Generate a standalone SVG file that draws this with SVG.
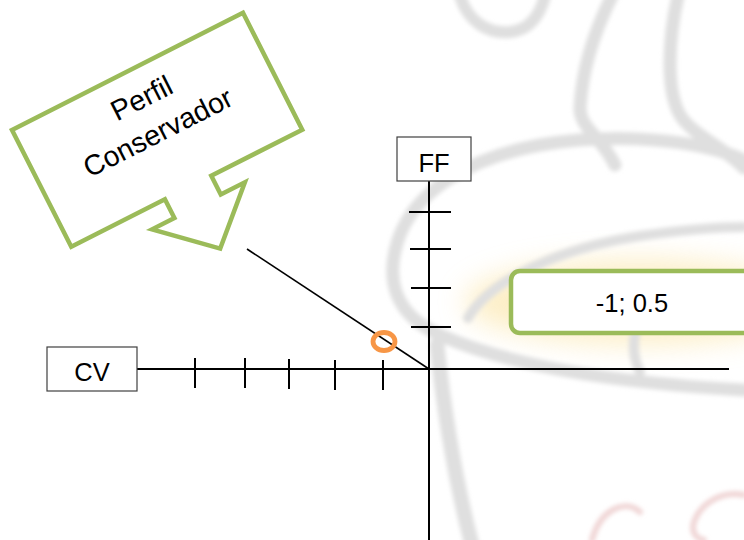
<svg xmlns="http://www.w3.org/2000/svg" width="744" height="540" viewBox="0 0 744 540">
  <style>
    .lbl { font-family: "Liberation Sans", Arial, sans-serif; font-size: 25.5px; fill: #000; text-anchor: middle; }
    .big { font-size: 28.5px; }
    .box { fill: #fff; stroke: #404040; stroke-width: 1.2; }
    .axis { stroke: #000; stroke-width: 2; fill: none; }
    .tick { stroke: #000; stroke-width: 2; }
    .green { fill: #fff; stroke: #9bbb59; stroke-width: 4.5; stroke-linejoin: miter; }
    .wm { fill: none; stroke: #dfdfdf; stroke-linecap: round; stroke-linejoin: round; }
  </style>
  <defs>
    <filter id="soft" x="-10%" y="-10%" width="120%" height="120%">
      <feGaussianBlur stdDeviation="2"/>
    </filter>
    <filter id="glow" x="-30%" y="-60%" width="160%" height="220%">
      <feGaussianBlur stdDeviation="14"/>
    </filter>
  </defs>

  <rect width="744" height="540" fill="#fff"/>

  <!-- faint cup logo in the background -->
  <g id="backdrop">
    <ellipse cx="640" cy="302" rx="175" ry="42" fill="#fbe3a0" opacity="0.6" filter="url(#glow)"/>
    <g filter="url(#soft)">
      <!-- outer rim -->
      <path class="wm" stroke-width="13" d="M744,160 C700,140 620,132 540,145 C470,158 415,190 398,240 C385,280 395,315 440,335 C500,362 600,382 744,390"/>
      <!-- coffee surface -->
      <path class="wm" stroke-width="10" d="M468,318 C490,280 560,248 640,236 C690,229 720,227 744,227"/>
      <!-- cup side -->
      <path class="wm" stroke-width="15" d="M437,345 C445,420 455,480 472,545"/>
      <path class="wm" stroke-width="10" d="M636,330 C632,345 634,360 640,372"/>
      <!-- steam -->
      <path class="wm" stroke-width="12" d="M460,-4 C468,22 488,34 510,32 C530,30 540,15 545,-4"/>
      <path class="wm" stroke-width="13" d="M612,-4 C595,30 582,70 580,108 C580,128 600,135 615,165"/>
      <path class="wm" stroke-width="13" d="M678,-4 C668,40 666,90 680,115 C692,135 725,148 744,168"/>
      <!-- lettering strokes -->
      <path fill="none" stroke="#f0d6d6" stroke-width="6" stroke-linecap="round" d="M640,512 C625,498 600,510 592,540"/>
      <path fill="none" stroke="#f0d6d6" stroke-width="6" stroke-linecap="round" d="M744,495 C720,490 700,505 694,522 C690,535 700,540 704,540"/>
    </g>
  </g>

  <!-- axes, ticks and the guide line -->
  <g id="connectors">
    <line class="axis" x1="137" y1="369" x2="729" y2="369"/>
    <line class="axis" x1="429" y1="181" x2="429" y2="540"/>
    <line class="tick" x1="195" y1="358" x2="195" y2="388"/>
    <line class="tick" x1="245" y1="358" x2="245" y2="388"/>
    <line class="tick" x1="289" y1="359" x2="289" y2="389"/>
    <line class="tick" x1="335" y1="360" x2="335" y2="390"/>
    <line class="tick" x1="383" y1="360" x2="383" y2="390"/>
    <line class="tick" x1="409" y1="212" x2="451" y2="212"/>
    <line class="tick" x1="410" y1="249" x2="451" y2="249"/>
    <line class="tick" x1="411" y1="288" x2="451" y2="288"/>
    <line class="tick" x1="411" y1="327" x2="451" y2="327"/>
    <line stroke="#000" stroke-width="1.6" x1="247" y1="249" x2="429" y2="369"/>
  </g>

  <g id="point">
    <ellipse cx="384" cy="341.5" rx="11" ry="9" fill="none" stroke="#f79646" stroke-width="4.8"/>
  </g>

  <g id="cv">
    <rect class="box" x="47" y="347" width="90" height="44"/>
    <text class="lbl" x="92" y="381">CV</text>
  </g>

  <g id="ff">
    <rect class="box" x="397" y="137" width="74" height="44"/>
    <text class="lbl" x="434" y="172">FF</text>
  </g>

  <g id="value">
    <rect class="green" x="511" y="271" width="260" height="62" rx="9"/>
    <text class="lbl" x="632" y="312">-1; 0.5</text>
  </g>

  <g id="callout" transform="translate(12,130) rotate(-26.9)">
    <path class="green" d="M0,0 H259 V131 H157 V152 H184 L132,200 L80,152 H105 V131 H0 Z"/>
    <text class="lbl big" x="130" y="40">Perfil</text>
    <text class="lbl big" x="129" y="78">Conservador</text>
  </g>
</svg>
